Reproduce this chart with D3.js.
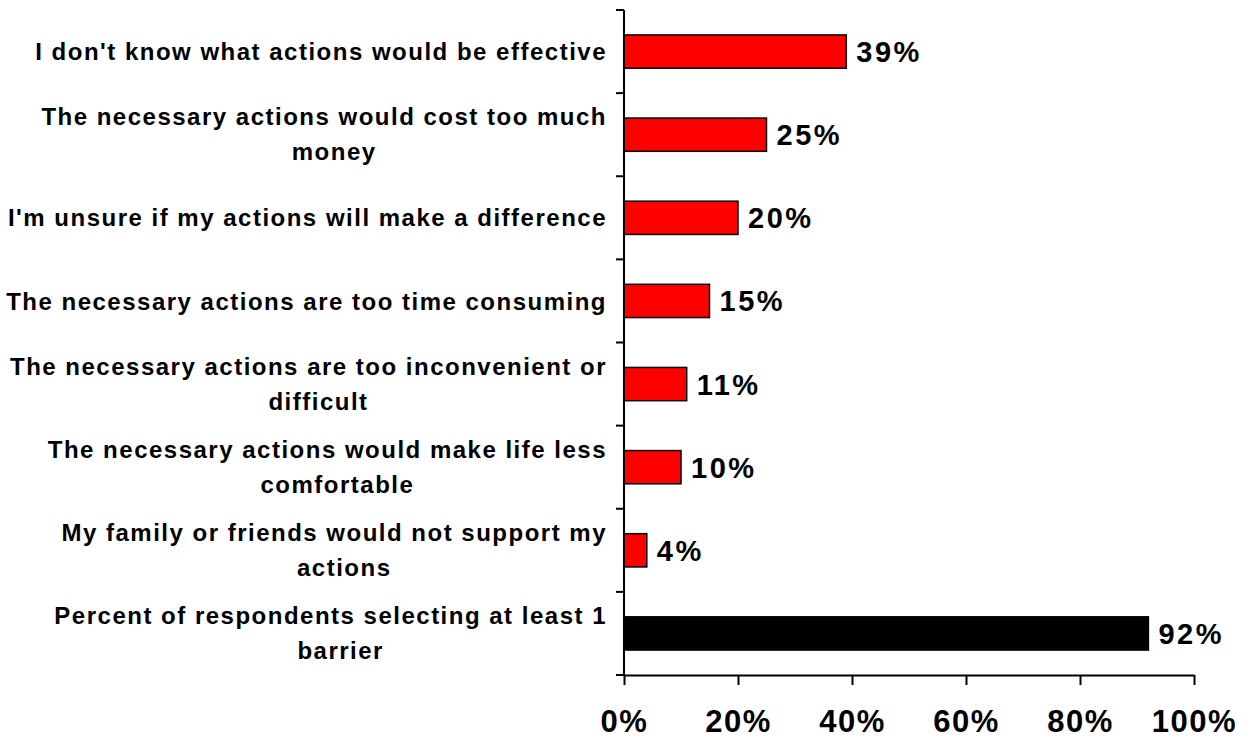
<!DOCTYPE html>
<html>
<head>
<meta charset="utf-8">
<script src="https://cdn.jsdelivr.net/npm/d3@7"></script>
<style>
  html, body { margin: 0; padding: 0; background: #fff; }
  svg { display: block; }
  text { font-family: "Liberation Sans", Arial, sans-serif; font-weight: bold; fill: #000; }
</style>
</head>
<body>
<svg id="chart" width="1251" height="738"></svg>
<script>
// ---- data ----
const categories = [
  "I don't know what actions would be effective",
  "The necessary actions would cost too much money",
  "I'm unsure if my actions will make a difference",
  "The necessary actions are too time consuming",
  "The necessary actions are too inconvenient or difficult",
  "The necessary actions would make life less comfortable",
  "My family or friends would not support my actions",
  "Percent of respondents selecting at least 1 barrier"
];
const labelLines = [
  ["I don't know what actions would be effective"],
  ["The necessary actions would cost too much", "money"],
  ["I'm unsure if my actions will make a difference"],
  ["The necessary actions are too time consuming"],
  ["The necessary actions are too inconvenient or", "difficult"],
  ["The necessary actions would make life less", "comfortable"],
  ["My family or friends would not support my", "actions"],
  ["Percent of respondents selecting at least 1", "barrier"]
];
const values = [39, 25, 20, 15, 11, 10, 4, 92];
const summaryFlags = [false, false, false, false, false, false, false, true];
const xTickValues = [0, 20, 40, 60, 80, 100];

// ---- layout ----
const svg = d3.select("#chart");
const plotLeft = 624, plotRight = 1194, plotTop = 10, plotBottom = 675;

const x = d3.scaleLinear().domain([0, 100]).range([plotLeft, plotRight]);
const y = d3.scaleBand().domain(categories).range([plotTop, plotBottom])
  .paddingInner(0.6).paddingOuter(0.3);
const step = y.step();

// bars
svg.append("g").selectAll("rect")
  .data(categories)
  .join("rect")
  .attr("x", x(0))
  .attr("y", d => y(d))
  .attr("width", (d, i) => x(values[i]) - x(0))
  .attr("height", y.bandwidth())
  .attr("fill", (d, i) => summaryFlags[i] ? "#000000" : "#FF0000")
  .attr("stroke", "#000")
  .attr("stroke-width", 1.5);

// value labels
svg.append("g").selectAll("text")
  .data(categories)
  .join("text")
  .attr("x", (d, i) => x(values[i]) + 10)
  .attr("y", d => y(d) + y.bandwidth() / 2)
  .attr("dy", "0.36em")
  .style("font-size", "29px")
  .style("letter-spacing", "2.5px")
  .text((d, i) => values[i] + "%");

// y axis line
svg.append("line")
  .attr("x1", plotLeft).attr("x2", plotLeft)
  .attr("y1", plotTop).attr("y2", plotBottom)
  .attr("stroke", "#000").attr("stroke-width", 2);

// y axis tick marks at category boundaries
const boundaries = d3.range(categories.length + 1).map(i => plotTop + i * step);
svg.append("g").selectAll("line")
  .data(boundaries)
  .join("line")
  .attr("x1", plotLeft - 8).attr("x2", plotLeft)
  .attr("y1", d => d).attr("y2", d => d)
  .attr("stroke", "#000").attr("stroke-width", 2);

// x axis
const xAxis = d3.axisBottom(x)
  .tickValues(xTickValues)
  .tickFormat(d => d + "%")
  .tickSize(10)
  .tickSizeOuter(0);
const gx = svg.append("g").attr("transform", `translate(0,${plotBottom})`).call(xAxis);
gx.select(".domain").attr("stroke", "#000").attr("stroke-width", 2);
gx.selectAll(".tick line").attr("stroke", "#000").attr("stroke-width", 2);
gx.selectAll(".tick text")
  .attr("y", 57).attr("dy", 0)
  .style("font-size", "31px")
  .style("letter-spacing", "1.5px")
  .style("font-family", "'Liberation Sans', Arial, sans-serif")
  .style("font-weight", "bold")
  .attr("fill", "#000");

// category labels
const labelRight = 607;
const lg = svg.append("g");
categories.forEach((c, i) => {
  const cy = y(c) + y.bandwidth() / 2;
  const lines = labelLines[i];
  if (lines.length === 1) {
    lg.append("text")
      .attr("x", labelRight).attr("y", cy).attr("dy", "0.36em")
      .attr("text-anchor", "end")
      .style("font-size", "24px").style("letter-spacing", "1.5px")
      .text(lines[0]);
  } else {
    const t1 = lg.append("text")
      .attr("x", labelRight).attr("y", cy - 18).attr("dy", "0.36em")
      .attr("text-anchor", "end")
      .style("font-size", "24px").style("letter-spacing", "1.5px")
      .text(lines[0]);
    const w = t1.node().getComputedTextLength();
    lg.append("text")
      .attr("x", labelRight - w / 2 + 10).attr("y", cy + 17).attr("dy", "0.36em")
      .attr("text-anchor", "middle")
      .style("font-size", "24px").style("letter-spacing", "1.5px")
      .text(lines[1]);
  }
});
</script>
</body>
</html>
